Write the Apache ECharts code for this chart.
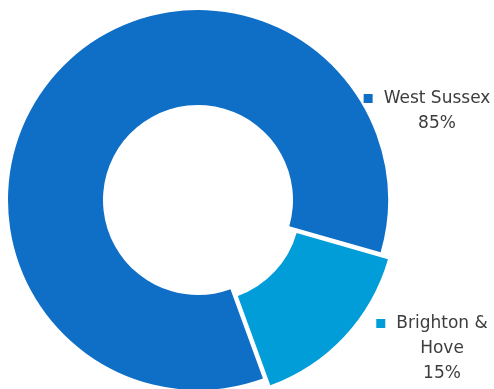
<!DOCTYPE html>
<html>
<head>
<meta charset="utf-8">
<script src="https://cdn.jsdelivr.net/npm/echarts@6/dist/echarts.min.js"></script>
<style>
  html, body { margin: 0; padding: 0; background: #fff; }
  #chart { width: 494px; height: 389px; }
</style>
</head>
<body>
<div id="chart"></div>
<script>
// Share of residents by area
const areas = ['West Sussex', 'Brighton &\nHove'];
const shares = [85, 15];
const colors = ['#0F6FC6', '#009DD9'];
// Slices pulled out of the ring
const exploded = [false, true];

// Where each label block sits (anchor is the centre of the first line)
const labelAnchors = [[427, 98], [432, 323]];

const chart = echarts.init(document.getElementById('chart'), null, { renderer: 'canvas' });

const center = [198, 200];
const startAngle = 290;
const explodeDist = 10;
const keySize = 9;
const keyGap = 11;

// Direction of the bisector of each slice, used to push exploded slices outwards
const total = shares.reduce((a, b) => a + b, 0);
let acc = 0;
const bisectors = shares.map(v => {
  const mid = startAngle - (acc + v / 2) / total * 360;
  acc += v;
  return mid * Math.PI / 180;
});
const explodedIdx = exploded.indexOf(true);
const shiftedCenter = [
  center[0] + explodeDist * Math.cos(bisectors[explodedIdx]),
  center[1] - explodeDist * Math.sin(bisectors[explodedIdx])
];

const labelFormatter = function (p) {
  const i = p.dataIndex;
  const lines = p.name.split('\n');
  const first = '{k' + i + '|}{gap|}' + '{t|' + lines[0] + '}';
  const rest = lines.slice(1).concat([p.value + '%'])
    .map(s => '{pad|}{t|' + s + '}');
  return [first].concat(rest).join('\n');
};

const rich = {
  t: { fontFamily: 'DejaVu Sans', fontSize: 17, color: '#3d3d3d', lineHeight: 25 },
  gap: { width: keyGap, height: 9 },
  pad: { width: keySize + keyGap, height: 9 }
};
colors.forEach((c, i) => {
  rich['k' + i] = { width: keySize, height: keySize, backgroundColor: c };
});

// Ring in place: carries every label, draws the slices that stay put
const ringData = areas.map((name, i) => ({
  name: name,
  value: shares[i],
  itemStyle: { color: exploded[i] ? 'rgba(0,0,0,0)' : colors[i] }
}));
// Same ring moved along the bisector: draws only the exploded slices
const explodedData = areas.map((name, i) => ({
  name: name,
  value: shares[i],
  itemStyle: { color: exploded[i] ? colors[i] : 'rgba(0,0,0,0)' }
}));

const common = {
  type: 'pie',
  radius: [95, 190],
  startAngle: startAngle,
  clockwise: true,
  silent: true,
  avoidLabelOverlap: false,
  emphasis: { disabled: true },
  labelLine: { show: false }
};

chart.setOption({
  animation: false,
  series: [
    Object.assign({}, common, {
      center: shiftedCenter,
      label: { show: false },
      data: explodedData
    }),
    Object.assign({}, common, {
      center: center,
      label: {
        show: true,
        position: 'outside',
        align: 'center',
        formatter: labelFormatter,
        rich: rich
      },
      labelLayout: function (params) {
        const a = labelAnchors[params.dataIndex];
        return { x: a[0], y: a[1] - 12, align: 'center', verticalAlign: 'top' };
      },
      data: ringData
    })
  ]
});
</script>
</body>
</html>
